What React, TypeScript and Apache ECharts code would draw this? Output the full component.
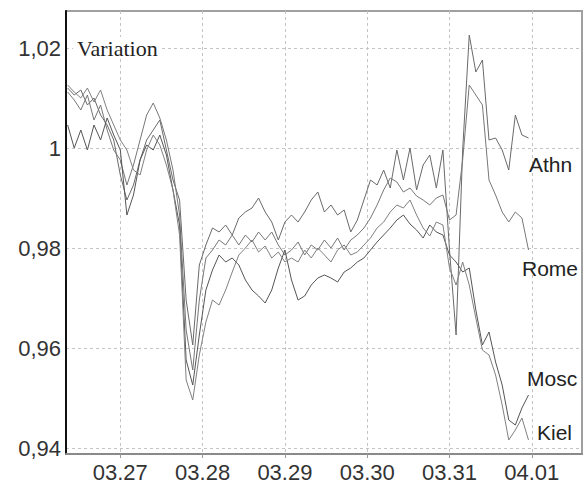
import React, { useEffect, useRef } from "react";
import * as echarts from "echarts";

// x in days counted from 03.27 00:00
const days = [
  -0.64, -0.56, -0.48, -0.4, -0.32, -0.24, -0.16, -0.08, 0, 0.08, 0.16, 0.24, 0.32, 0.4, 0.48, 0.56,
  0.64, 0.72, 0.8, 0.88, 0.96, 1.04, 1.12, 1.2, 1.28, 1.36, 1.44, 1.52, 1.6, 1.68, 1.76, 1.84, 1.92,
  2.0, 2.08, 2.16, 2.24, 2.32, 2.4, 2.48, 2.56, 2.64, 2.72, 2.8, 2.88, 2.96, 3.04, 3.12, 3.2, 3.28,
  3.36, 3.44, 3.52, 3.6, 3.68, 3.76, 3.84, 3.92, 4.0, 4.08, 4.16, 4.24, 4.32, 4.4, 4.48, 4.56, 4.64,
  4.72, 4.8, 4.88, 4.96,
];
const tickDays = [0, 1, 2, 3, 4, 5];
const dayLabels = ["03.27", "03.28", "03.29", "03.30", "03.31", "04.01"];
const yTicks = [0.94, 0.96, 0.98, 1, 1.02];
const yLabels = ["0,94", "0,96", "0,98", "1", "1,02"];

const athn = [
  1.012, 1.0106, 1.0116, 1.0086, 1.01, 1.0066, 1.0046, 1.0016, 0.9946, 0.9896, 0.9926, 0.9976, 1.0016,
  1.0036, 1.0056, 0.9996, 0.9936, 0.9896, 0.9696, 0.9606, 0.9766, 0.9806, 0.984, 0.9832, 0.9846,
  0.9826, 0.986, 0.9872, 0.988, 0.99, 0.9872, 0.9852, 0.9816, 0.9852, 0.9866, 0.9852, 0.9872, 0.9896,
  0.9912, 0.9872, 0.9886, 0.9866, 0.9876, 0.9832, 0.9856, 0.9896, 0.9936, 0.9926, 0.9956, 0.992,
  0.9996, 0.9936, 1.0, 0.9916, 0.9966, 0.9986, 0.992, 0.9996, 0.9796, 0.9626, 0.9996, 1.0226, 1.0152,
  1.0176, 1.0016, 1.002, 0.9996, 0.9956, 1.0066, 1.0026, 1.002,
];
const rome = [
  1.0112, 1.0096, 1.0076, 1.0106, 1.0056, 1.0086, 1.0036, 0.9996, 0.9976, 0.9926, 0.9966, 1.0016,
  1.0066, 1.009, 1.006, 1.0016, 0.9956, 0.9866, 0.9636, 0.9556, 0.9696, 0.978, 0.9796, 0.9816, 0.9806,
  0.9826, 0.9806, 0.9826, 0.9812, 0.9832, 0.9816, 0.9832, 0.9806, 0.9786, 0.9796, 0.9812, 0.9786,
  0.9806, 0.9796, 0.9816, 0.98, 0.982, 0.9796, 0.9816, 0.9826, 0.984, 0.986, 0.9886, 0.9916, 0.994,
  0.9932, 0.9912, 0.992, 0.9904, 0.9896, 0.9886, 0.99, 0.9906, 0.9856, 0.9866, 0.9976, 1.0126, 1.0106,
  1.0086, 0.9936, 0.9906, 0.9872, 0.9852, 0.9872, 0.986, 0.9796,
];
const mosc = [
  1.0046, 1.0, 1.0036, 0.9996, 1.0046, 1.0016, 1.006, 1.0026, 0.9996, 0.9866, 0.9906, 0.9976, 1.0006,
  0.9996, 1.0026, 0.9986, 0.9916, 0.9846, 0.9576, 0.9526, 0.9626, 0.9716, 0.9756, 0.9786, 0.9772,
  0.978, 0.9766, 0.9736, 0.9716, 0.9704, 0.969, 0.9716, 0.976, 0.9796, 0.9736, 0.9696, 0.9704, 0.9726,
  0.974, 0.9746, 0.974, 0.9732, 0.9752, 0.976, 0.9772, 0.978, 0.9796, 0.9812, 0.9826, 0.984, 0.9856,
  0.9866, 0.9848, 0.9836, 0.982, 0.9846, 0.9832, 0.9826, 0.9786, 0.9772, 0.9752, 0.976, 0.9676,
  0.9606, 0.9632, 0.9572, 0.9526, 0.9456, 0.9446, 0.948, 0.9506,
];
const kiel = [
  1.0126, 1.0112, 1.01, 1.012, 1.0092, 1.0116, 1.0076, 1.0046, 1.0016, 0.9996, 0.9956, 0.9946, 0.9996,
  1.0026, 1.0006, 0.9966, 0.9916, 0.9826, 0.9536, 0.9496, 0.9586, 0.9652, 0.9696, 0.9686, 0.9716,
  0.9752, 0.9786, 0.98, 0.9816, 0.9792, 0.9804, 0.978, 0.9792, 0.9772, 0.978, 0.9772, 0.9796, 0.978,
  0.98, 0.9786, 0.9772, 0.9796, 0.9806, 0.9786, 0.9792, 0.9806, 0.982, 0.984, 0.9852, 0.9872, 0.9886,
  0.988, 0.9896, 0.9866, 0.984, 0.9824, 0.9852, 0.9846, 0.976, 0.9726, 0.9772, 0.9726, 0.966, 0.9596,
  0.9586, 0.9546, 0.9486, 0.9416, 0.9436, 0.946, 0.9416,
];

const seriesNames = ["Athn", "Rome", "Mosc", "Kiel"];
const seriesValues = [athn, rome, mosc, kiel];
const seriesColors = ["#6a6a6a", "#777777", "#555555", "#808080"];

export default function App() {
  const ref = useRef<HTMLDivElement>(null);
  useEffect(() => {
    if (!ref.current) return;
    const chart = echarts.init(ref.current, null, { renderer: "svg" });
    const sans = "'Liberation Sans', Arial, sans-serif";
    const labelText = (name: string, x: number, y: number) => ({
      type: "text",
      x,
      y,
      silent: true,
      z: 10,
      style: {
        text: name,
        fill: "#222",
        font: `21px ${sans}`,
        verticalAlign: "middle",
        textVerticalAlign: "middle",
      },
    });
    chart.setOption({
      animation: false,
      backgroundColor: "#ffffff",
      grid: {
        left: 66,
        right: 2,
        top: 11,
        bottom: 29,
        show: true,
        borderColor: "#a0a0a0",
        borderWidth: 2,
      },
      xAxis: {
        type: "value",
        min: -0.66,
        max: 5.61,
        axisLine: { show: true, onZero: false, lineStyle: { color: "#8a8a8a", width: 2 } },
        axisTick: { show: true, customValues: tickDays, length: 4, lineStyle: { color: "#999" } },
        axisLabel: {
          customValues: tickDays,
          formatter: (v: number) => {
            const i = tickDays.findIndex((t) => Math.abs(t - v) < 1e-6);
            return i >= 0 ? dayLabels[i] : "";
          },
          color: "#333",
          fontSize: 22,
          fontFamily: sans,
          margin: 7,
        },
        splitLine: { show: true, lineStyle: { type: [3, 3], color: "#c4c4c4", width: 1 } },
      },
      yAxis: {
        type: "value",
        min: 0.9388,
        max: 1.0274,
        axisLine: { show: true, onZero: false, lineStyle: { color: "#111", width: 2 } },
        axisTick: { show: false, customValues: yTicks },
        axisLabel: {
          customValues: yTicks,
          formatter: (v: number) => {
            const i = yTicks.findIndex((t) => Math.abs(t - v) < 1e-6);
            return i >= 0 ? yLabels[i] : "";
          },
          color: "#333",
          fontSize: 22,
          fontFamily: sans,
          margin: 5,
        },
        splitLine: { show: true, lineStyle: { type: [3, 3], color: "#c4c4c4", width: 1 } },
      },
      series: seriesNames.map((name, k) => ({
        type: "line",
        name,
        data: days.map((d, i) => [d, seriesValues[k][i]]),
        showSymbol: false,
        symbol: "none",
        silent: true,
        lineStyle: { color: seriesColors[k], width: 1 },
      })),
      graphic: [
        {
          type: "text",
          x: 73,
          y: 48,
          silent: true,
          z: 10,
          style: {
            text: "Variation",
            fill: "#222",
            font: "22px 'Liberation Serif', 'Times New Roman', serif",
            verticalAlign: "middle",
            textVerticalAlign: "middle",
            backgroundColor: "#ffffff",
            padding: [0, 4],
          },
        },
        labelText("Athn", 529, 164),
        labelText("Rome", 522, 268),
        labelText("Mosc", 527, 378),
        labelText("Kiel", 537, 432),
      ],
    });
    return () => chart.dispose();
  }, []);
  return <div ref={ref} style={{ position: "absolute", left: 0, top: 0, width: 584, height: 483 }} />;
}
